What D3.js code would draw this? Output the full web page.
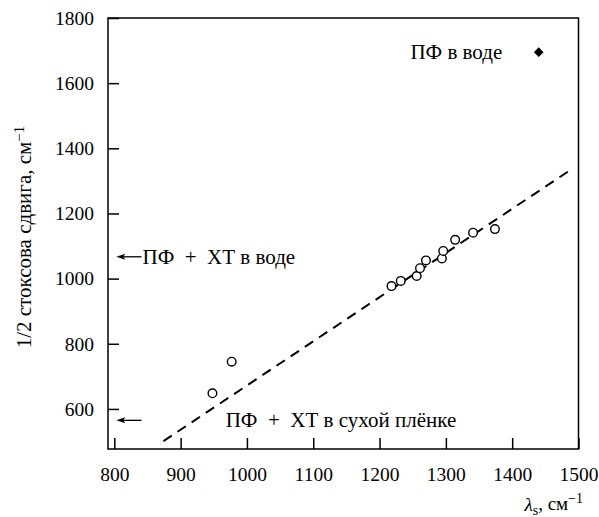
<!DOCTYPE html>
<html>
<head>
<meta charset="utf-8">
<script src="https://cdn.jsdelivr.net/npm/d3@7/dist/d3.min.js"></script>
<style>
  body { margin: 0; background: #fff; }
  svg text { font-family: "Liberation Serif", "Times New Roman", Tinos, "DejaVu Serif", serif !important; fill: #000; }
</style>
</head>
<body>
<div id="chart"></div>
<script>
// circles: lambda_s vs 1/2 stokes shift
var lambdaS = [948, 977, 1218, 1232, 1256, 1261, 1270, 1294, 1296, 1314, 1341, 1374];
var halfShift = [648, 745, 977, 993, 1008, 1032, 1056, 1062, 1085, 1119, 1141, 1152];

// filled diamond: PF in water
var pfWaterX = [1440];
var pfWaterY = [1695];

// dashed fit line ends
var fitX = [874, 1486];
var fitY = [501, 1331];

// arrows at the left axis
var arrowY = [1067, 565];
var arrowX = [803, 841];

var xTicks = [800, 900, 1000, 1100, 1200, 1300, 1400, 1500];
var yTicks = [600, 800, 1000, 1200, 1400, 1600, 1800];

var W = 599, H = 517;
var margin = { top: 18, right: 20.5, bottom: 68, left: 108 };
var width = W - margin.left - margin.right,
    height = H - margin.top - margin.bottom;

var svg = d3.select("#chart").append("svg")
    .attr("width", W).attr("height", H);

var g = svg.append("g")
    .attr("transform", "translate(" + margin.left + "," + margin.top + ")");

var x = d3.scaleLinear().domain([790.5, 1500]).range([0, width]);
var y = d3.scaleLinear().domain([477, 1800]).range([height, 0]);

// frame
g.append("rect")
    .attr("width", width).attr("height", height)
    .attr("fill", "none").attr("stroke", "#000").attr("stroke-width", 1.5);

var xAxis = g.append("g")
    .attr("transform", "translate(0," + height + ")")
    .call(d3.axisBottom(x).tickValues(xTicks).tickSize(-11).tickPadding(18).tickFormat(d3.format("d")));
var yAxis = g.append("g")
    .call(d3.axisLeft(y).tickValues(yTicks).tickSize(-11).tickPadding(14).tickFormat(d3.format("d")));

[xAxis, yAxis].forEach(function (a) {
    a.attr("font-family", null).attr("font-size", null);
    a.select(".domain").remove();
    a.selectAll(".tick line").attr("stroke", "#000").attr("stroke-width", 1.5);
    a.selectAll(".tick text").style("font-size", "19.5px");
});

// dashed line
g.append("line")
    .attr("x1", x(fitX[0])).attr("y1", y(fitY[0]))
    .attr("x2", x(fitX[1])).attr("y2", y(fitY[1]))
    .attr("stroke", "#000").attr("stroke-width", 2)
    .attr("stroke-dasharray", "10,7");

// open circles
g.selectAll(".pt")
    .data(lambdaS)
    .enter()
    .append("circle")
    .attr("class", "pt")
    .attr("cx", function (d) { return x(d); })
    .attr("cy", function (d, i) { return y(halfShift[i]); })
    .attr("r", 4.3)
    .attr("fill", "#fff")
    .attr("stroke", "#000")
    .attr("stroke-width", 1.4);

// diamond
g.selectAll(".dia")
    .data(pfWaterX)
    .enter()
    .append("path")
    .attr("class", "dia")
    .attr("d", d3.symbol().type(d3.symbolDiamond2).size(60))
    .attr("transform", function (d, i) { return "translate(" + x(d) + "," + y(pfWaterY[i]) + ")"; })
    .attr("fill", "#000");

g.append("text")
    .attr("x", x(1385)).attr("y", y(pfWaterY[0]))
    .attr("dy", "0.33em")
    .attr("text-anchor", "end")
    .style("font-size", "21px")
    .text("ПФ в воде");

// arrows
arrowY.forEach(function (v) {
    var yy = y(v);
    var x0 = x(arrowX[0]), x1 = x(arrowX[1]);
    g.append("line")
        .attr("x1", x0 + 4).attr("y1", yy).attr("x2", x1).attr("y2", yy)
        .attr("stroke", "#000").attr("stroke-width", 1.3);
    g.append("path")
        .attr("d", "M" + x0 + "," + yy + "L" + (x0 + 9) + "," + (yy - 3) + "L" + (x0 + 7) + "," + yy + "L" + (x0 + 9) + "," + (yy + 3) + "Z")
        .attr("fill", "#000");
});

g.append("text")
    .attr("x", x(arrowX[1]) + 1).attr("y", y(arrowY[0]))
    .attr("dy", "0.33em")
    .style("font-size", "21px")
    .text("ПФ\u2002+\u2002ХТ в воде");

g.append("text")
    .attr("x", x(968)).attr("y", y(arrowY[1]))
    .attr("dy", "0.33em")
    .style("font-size", "21px")
    .text("ПФ\u2002+\u2002ХТ в сухой плёнке");

// axis labels
var yl = svg.append("text")
    .attr("transform", "translate(31," + 237 + ") rotate(-90)")
    .attr("text-anchor", "middle")
    .style("font-size", "21px");
yl.append("tspan").text("1/2 стоксова сдвига, см");
yl.append("tspan").attr("dy", "-0.45em").style("font-size", "15px").text("−1");

var xl = svg.append("text")
    .attr("x", 583).attr("y", 511)
    .attr("text-anchor", "end")
    .style("font-size", "19px");
xl.append("tspan").style("font-style", "italic").text("λ");
xl.append("tspan").attr("dy", "0.25em").style("font-size", "14px").text("s");
xl.append("tspan").attr("dy", "-0.25em").text(", см");
xl.append("tspan").attr("dy", "-0.45em").style("font-size", "14px").text("−1");
</script>
</body>
</html>
